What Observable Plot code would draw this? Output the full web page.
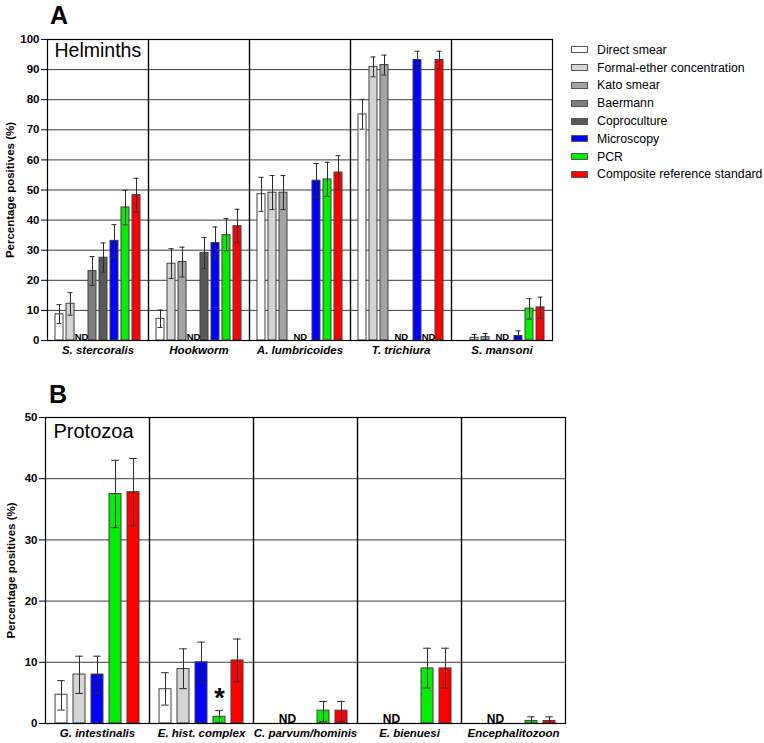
<!DOCTYPE html>
<html><head><meta charset="utf-8">
<script src="https://cdn.jsdelivr.net/npm/d3@7"></script>
<script src="https://cdn.jsdelivr.net/npm/@observablehq/plot@0.6"></script>
<style>
body{margin:0;background:#fff;font-family:"Liberation Sans",Arial,sans-serif;}
#wrap{position:relative;width:764px;height:743px;overflow:hidden;background:#fff;}
.panel{position:absolute;left:0;}
.letter{position:absolute;font-weight:bold;font-size:25px;line-height:1;color:#000;}
.legend{position:absolute;left:571px;top:41px;font-size:12.3px;color:#000;}
.legend .row{display:flex;align-items:center;height:17.8px;white-space:nowrap;}
.legend .sw{width:15px;height:5px;border:1px solid #555;margin-right:9px;flex:none;}
</style></head><body>
<div id="wrap">
  <div id="panelA" class="panel" style="top:0px"></div>
  <div id="panelB" class="panel" style="top:380px"></div>
  <div class="letter" style="left:50px;top:3px">A</div>
  <div class="letter" style="left:49px;top:382px">B</div>
  <div id="legend" class="legend"></div>
</div>
<script>
// ---------- Panel A: helminths ----------
const titleA = "Helminths";
const speciesA = ["S. stercoralis", "Hookworm", "A. lumbricoides", "T. trichiura", "S. mansoni"];
const methodsA = ["Direct smear", "Formal-ether concentration", "Kato smear", "Baermann", "Coproculture", "Microscopy", "PCR", "Composite reference standard"];
const colorsA = ["#ffffff", "#d4d4d4", "#a4a4a6", "#7f7f7f", "#595959", "#0000ff", "#00ee00", "#ff0000"];
const valueA = [
  [8.7, 12.2, null, 23.1, 27.5, 33.1, 44.2, 48.3],
  [7.2, 25.5, 26.1, null, 29.1, 32.4, 35.0, 38.0],
  [48.6, 49.1, 49.1, null, null, 53.1, 53.5, 55.8],
  [75.1, 90.9, 91.5, null, null, 93.2, null, 93.2],
  [null, 0.9, 1.1, null, null, 1.5, 10.6, 11.0]
];
const lowA = [
  [5.6, 8.4, null, 18.3, 22.7, 27.7, 38.4, 42.6],
  [4.3, 20.6, 21.1, null, 24.0, 27.2, 29.8, 32.5],
  [42.9, 43.5, 43.5, null, null, 47.5, 47.9, 50.1],
  [70.2, 87.6, 88.2, null, null, 90.3, null, 90.3],
  [null, 0.1, 0.2, null, null, 0.2, 7.1, 7.4]
];
const highA = [
  [11.9, 15.9, null, 27.9, 32.4, 38.5, 49.9, 53.9],
  [10.1, 30.5, 31.0, null, 34.2, 37.7, 40.5, 43.6],
  [54.2, 54.8, 54.8, null, null, 58.8, 59.2, 61.4],
  [80.1, 94.2, 94.8, null, null, 96.1, null, 96.1],
  [null, 2.0, 2.3, null, null, 3.2, 13.9, 14.4]
];
const ticksA = [0, 10, 20, 30, 40, 50, 60, 70, 80, 90, 100];
// "not done" labels: single slot, and spanning Baermann + Coproculture
const ndA = [["S. stercoralis", "Kato smear"], ["Hookworm", "Baermann"], ["T. trichiura", "PCR"]];
const ndPairA = [["A. lumbricoides", "Baermann"], ["T. trichiura", "Baermann"], ["S. mansoni", "Baermann"]];

// ---------- Panel B: protozoa ----------
const titleB = "Protozoa";
const speciesB = ["G. intestinalis", "E. hist. complex", "C. parvum/hominis", "E. bienuesi", "Encephalitozoon"];
const methodsB = ["Direct smear", "Formal-ether concentration", "Microscopy", "PCR", "Composite reference standard"];
const colorsB = ["#ffffff", "#d4d4d4", "#0000ff", "#00ee00", "#ff0000"];
const valueB = [
  [4.7, 8.0, 8.0, 37.5, 37.8],
  [5.6, 8.9, 10.0, 1.1, 10.3],
  [null, null, null, 2.1, 2.1],
  [null, null, null, 9.0, 9.0],
  [null, null, null, 0.4, 0.4]
];
const lowB = [
  [2.2, 4.9, 4.9, 32.0, 32.3],
  [3.0, 5.7, 6.6, 0.1, 6.8],
  [null, null, null, 0.3, 0.3],
  [null, null, null, 5.8, 5.8],
  [null, null, null, 0.0, 0.0]
];
const highB = [
  [7.0, 11.0, 11.0, 43.0, 43.3],
  [8.3, 12.2, 13.3, 2.1, 13.8],
  [null, null, null, 3.6, 3.6],
  [null, null, null, 12.3, 12.3],
  [null, null, null, 1.1, 1.1]
];
const ticksB = [0, 10, 20, 30, 40, 50];
const ndB = [["C. parvum/hominis", "Formal-ether concentration"], ["E. bienuesi", "Formal-ether concentration"], ["Encephalitozoon", "Formal-ether concentration"]];
const starB = [["E. hist. complex", "PCR"]];

const yLabel = "Percentage positives (%)";
const FONT = '"Liberation Sans", Arial, sans-serif';

function rows(species, methods, val, lo, hi) {
  const out = [];
  species.forEach((s, i) => methods.forEach((m, j) => {
    if (val[i][j] != null) out.push({species: s, method: m, value: val[i][j], lo: lo[i][j], hi: hi[i][j]});
  }));
  return out;
}
const dataA = rows(speciesA, methodsA, valueA, lowA, highA);
const dataB = rows(speciesB, methodsB, valueB, lowB, highB);

function panel(cfg) {
  const {width, height, ml, mr, mt, mb, species, methods, colors, data, ticks, pi, po, cap,
         title, titleDx, titleDy, titleSize, nd, ndPair, ndSize, labelX, star} = cfg;
  const facetW = (width - ml - mr) / species.length;
  const step = facetW / (methods.length - pi + 2 * po);
  const grid = ticks.slice(1, -1);
  const marks = [
    Plot.ruleY(grid, {stroke: "#3a3a3a", strokeWidth: 1}),
    Plot.barY(data, {fx: "species", x: "method", y: "value", fill: "method", stroke: "#404040", strokeWidth: 1}),
    Plot.ruleX(data, {fx: "species", x: "method", y1: "lo", y2: "hi", stroke: "#2a2a2a", strokeWidth: 1}),
    Plot.tickY(data, {fx: "species", x: "method", y: "lo", stroke: "#2a2a2a", insetLeft: cap, insetRight: cap}),
    Plot.tickY(data, {fx: "species", x: "method", y: "hi", stroke: "#2a2a2a", insetLeft: cap, insetRight: cap}),
    Plot.text(nd, {fx: d => d[0], x: d => d[1], y: () => 0, text: () => "ND", lineAnchor: "bottom", dy: -1,
                   fontSize: ndSize, fontWeight: "bold", fill: "#000"}),
    Plot.text([title], {fx: [species[0]], frameAnchor: "top-left", textAnchor: "start", lineAnchor: "top",
                        dx: titleDx, dy: titleDy, fontSize: titleSize, fontWeight: "normal", fill: "#000"}),
    // y-axis title, in the left margin of the first facet
    Plot.text([yLabel], {fx: [species[0]], frameAnchor: "left", rotate: -90, textAnchor: "middle", lineAnchor: "top",
                         dx: labelX - ml, fontSize: 11.5, fontWeight: "bold", fill: "#000"}),
    Plot.frame({stroke: "#000", strokeWidth: 1.2}),
    Plot.axisY({ticks, tickSize: 6, tickPadding: 2, fontWeight: "bold", fontSize: 11.5, stroke: "#000", label: null}),
    Plot.axisFx({anchor: "bottom", tickSize: 0, tickPadding: 5, fontWeight: "bold", fontStyle: "italic",
                 fontSize: 11.5, label: null})
  ];
  if (ndPair) marks.push(Plot.text(ndPair, {fx: d => d[0], x: d => d[1], y: () => 0, text: () => "ND",
                   lineAnchor: "bottom", dy: -1, dx: step / 2, fontSize: ndSize, fontWeight: "bold", fill: "#000"}));
  if (star) {
    const starRows = star.map(([s, m]) => data.find(d => d.species === s && d.method === m));
    marks.push(Plot.text(starRows, {fx: "species", x: "method", y: "hi", text: () => "*", dy: -12,
                   fontSize: 27, fontWeight: "bold", fill: "#000"}));
  }
  return Plot.plot({
    width, height, marginLeft: ml, marginRight: mr, marginTop: mt, marginBottom: mb,
    style: {fontFamily: FONT, fontSize: "11.5px", color: "#000", background: "transparent", overflow: "visible"},
    fx: {domain: species, padding: 0, label: null},
    x: {domain: methods, paddingInner: pi, paddingOuter: po, axis: null},
    y: {domain: [ticks[0], ticks[ticks.length - 1]], label: null},
    color: {domain: methods, range: colors},
    marks
  });
}

document.getElementById("panelA").append(panel({
  width: 560, height: 365, ml: 45, mr: 7, mt: 39, mb: 25,
  species: speciesA, methods: methodsA, colors: colorsA, data: dataA, ticks: ticksA,
  pi: 0.23, po: 0.455, cap: 1.5, title: titleA, titleDx: 7, titleDy: 4, titleSize: 19.5,
  nd: ndA, ndPair: ndPairA, ndSize: 9.5, labelX: 3
}));
document.getElementById("panelB").append(panel({
  width: 570, height: 363, ml: 45, mr: 5, mt: 37, mb: 20,
  species: speciesB, methods: methodsB, colors: colorsB, data: dataB, ticks: ticksB,
  pi: 0.35, po: 0.485, cap: 2.2, title: titleB, titleDx: 8, titleDy: 6, titleSize: 20,
  nd: ndB, ndPair: null, ndSize: 12, labelX: 6, star: starB
}));

// legend (methods of panel A)
const leg = d3.select("#legend");
methodsA.forEach((m, i) => {
  const row = leg.append("div").attr("class", "row");
  row.append("span").attr("class", "sw").style("background", colorsA[i]);
  row.append("span").text(m);
});
</script>
</body></html>
